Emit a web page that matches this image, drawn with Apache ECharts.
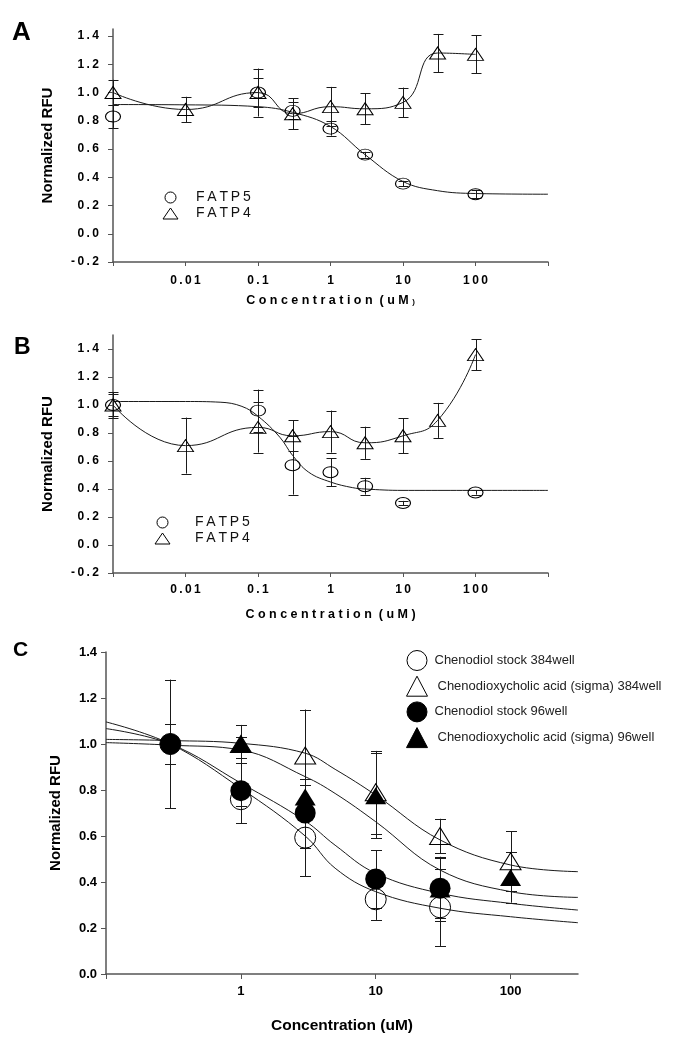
<!DOCTYPE html>
<html><head><meta charset="utf-8">
<script src="https://cdn.jsdelivr.net/npm/echarts@6/dist/echarts.min.js"></script>
<style>html,body{margin:0;padding:0;background:#fff}#c{width:678px;height:1050px}</style>
</head><body><div id="c"></div><script>
// ---------- Panel A ----------
const concA = [0.001, 0.01, 0.1, 0.3, 1, 3, 10, 30, 100];
const fatp5A_x = [0.001, 0.1, 0.3, 1, 3, 10, 100];
const fatp5A = [0.83, 1.0, 0.87, 0.745, 0.56, 0.355, 0.28];
const fatp5A_err = [0.08, 0.17, 0.06, 0.05, 0.02, 0.02, 0.03];
const fatp4A = [1.0, 0.88, 1.0, 0.85, 0.9, 0.885, 0.93, 1.28, 1.27];
const fatp4A_err = [0.09, 0.09, 0.1, 0.11, 0.14, 0.11, 0.105, 0.135, 0.135];
const fitA_x = [0.001, 0.01, 0.1, 0.3, 1, 3, 10, 30, 100, 1000];
const fitA_fatp5 = [0.915, 0.913, 0.90, 0.86, 0.76, 0.56, 0.37, 0.305, 0.285, 0.28];

// ---------- Panel B ----------
const concB = [0.001, 0.01, 0.1, 0.3, 1, 3, 10, 30, 100];
const fatp5B_x = [0.001, 0.1, 0.3, 1, 3, 10, 100];
const fatp5B = [1.0, 0.96, 0.57, 0.52, 0.42, 0.30, 0.375];
const fatp5B_err = [0.08, 0.15, 0.21, 0.1, 0.06, 0.015, 0.015];
const fatp4B = [1.0, 0.71, 0.84, 0.78, 0.81, 0.73, 0.78, 0.89, 1.36];
const fatp4B_err = [0.09, 0.2, 0.18, 0.11, 0.15, 0.115, 0.125, 0.125, 0.11];
const fitB_x = [0.001, 0.01, 0.03, 0.06, 0.1, 0.2, 0.3, 0.5, 1, 2, 3, 10, 1000];
const fitB_fatp5 = [1.025, 1.025, 1.02, 0.99, 0.92, 0.77, 0.64, 0.52, 0.45, 0.41, 0.40, 0.39, 0.39];

// ---------- Panel C ----------
const chenoX = [0.3, 1, 3, 10, 30];
const sigmaX = [1, 3, 10, 30, 100];
const cheno384 = [1.0, 0.76, 0.593, 0.325, 0.29];
const cheno384_err = [0.28, 0.03, 0.167, 0.09, 0.168];
const sigma384 = [1.0, 0.95, 0.79, 0.60, 0.49];
const sigma384_err = [0.03, 0.2, 0.18, 0.075, 0.13];
const cheno96 = [1.0, 0.797, 0.70, 0.413, 0.373];
const cheno96_err = [0.085, 0.142, 0.15, 0.125, 0.13];
const sigma96 = [1.0, 0.77, 0.775, 0.37, 0.42];
const sigma96_err = [0.083, 0.05, 0.185, 0.14, 0.11];
const fitC_x = [0.1, 0.3, 1, 3, 5, 10, 30, 100, 316];
const fit_sigma384 = [1.02, 1.015, 1.003, 0.96, 0.89, 0.778, 0.583, 0.474, 0.445];
const fit_sigma96 = [1.006, 0.995, 0.974, 0.858, 0.785, 0.662, 0.452, 0.358, 0.333];
const fit_cheno96 = [1.067, 1.0, 0.83, 0.665, 0.56, 0.438, 0.351, 0.307, 0.278];
const fit_cheno384 = [1.096, 1.0, 0.807, 0.60, 0.46, 0.358, 0.286, 0.249, 0.223];

// ---------- Ticks ----------
const xTicksAB = [0.01, 0.1, 1, 10, 100];
const xTickLabelsAB = ['0.01', '0.1', '1', '10', '100'];
const xTicksC = [1, 10, 100];
const xTickLabelsC = ['1', '10', '100'];
const yTicksAB = [-0.2, 0, 0.2, 0.4, 0.6, 0.8, 1.0, 1.2, 1.4];
const yTickLabelsAB = ['-0.2', '0.0', '0.2', '0.4', '0.6', '0.8', '1.0', '1.2', '1.4'];
const yTicksC = [0, 0.2, 0.4, 0.6, 0.8, 1.0, 1.2, 1.4];
const yTickLabelsC = ['0.0', '0.2', '0.4', '0.6', '0.8', '1.0', '1.2', '1.4'];

const FONT = '"Liberation Sans", Arial, Helvetica, sans-serif';
const TS = '\u2009';
const sp = s => s.split('').join(TS);
const AX = '#555';
const LN = '#1a1a1a';

function fmtLog(ticks, labels, spaced) {
  return v => {
    for (let i = 0; i < ticks.length; i++) {
      if (Math.abs(Math.log10(v) - Math.log10(ticks[i])) < 1e-6) return spaced ? sp(labels[i]) : labels[i];
    }
    return '';
  };
}
function fmtVal(ticks, labels, spaced) {
  return v => {
    for (let i = 0; i < ticks.length; i++) {
      if (Math.abs(v - ticks[i]) < 1e-6) return spaced ? sp(labels[i]) : labels[i];
    }
    return '';
  };
}
const zip = (xs, ys) => xs.map((x, i) => [x, ys[i]]);
const zipErr = (xs, ys, es) => xs.map((x, i) => [x, ys[i] - es[i], ys[i] + es[i]]);

function errRender(cap) {
  return function (params, api) {
    const x = api.value(0), lo = api.value(1), hi = api.value(2);
    const p1 = api.coord([x, hi]), p2 = api.coord([x, lo]);
    const cx = Math.round(p1[0]) + 0.5;
    const st = { stroke: LN, lineWidth: 1 };
    return { type: 'group', children: [
      { type: 'line', shape: { x1: cx, y1: p1[1], x2: cx, y2: p2[1] }, style: st },
      { type: 'line', shape: { x1: cx - cap, y1: Math.round(p1[1]) + 0.5, x2: cx + cap, y2: Math.round(p1[1]) + 0.5 }, style: st },
      { type: 'line', shape: { x1: cx - cap, y1: Math.round(p2[1]) + 0.5, x2: cx + cap, y2: Math.round(p2[1]) + 0.5 }, style: st }
    ] };
  };
}
function errSeries(idx, data, cap) {
  return { type: 'custom', xAxisIndex: idx, yAxisIndex: idx, data: data, renderItem: errRender(cap),
    encode: { x: 0, y: [1, 2] }, silent: true, z: 2 };
}
function curve(idx, data, smooth) {
  return { type: 'line', xAxisIndex: idx, yAxisIndex: idx, data: data, showSymbol: false, symbol: 'none',
    smooth: smooth, lineStyle: { color: LN, width: 1 }, silent: true, z: 1 };
}
function marks(idx, name, data, symbol, size, filled) {
  return { type: 'scatter', name: name, xAxisIndex: idx, yAxisIndex: idx, data: data, symbol: symbol, symbolSize: size,
    symbolKeepAspect: false,
    itemStyle: { color: filled ? '#000' : 'rgba(0,0,0,0)', borderColor: '#000', borderWidth: filled ? 0 : 1, opacity: 1 },
    emphasis: { disabled: true }, z: 3 };
}

const tickLblAB = { fontSize: 12, fontWeight: 'bold', color: '#000', fontFamily: FONT };
function xAxisAB(idx, margin, nameGap, name) {
  return { type: 'log', gridIndex: idx, min: 0.001, max: 1000, logBase: 10,
    axisLine: { onZero: false, lineStyle: { color: AX, width: 1.5 } },
    axisTick: { length: 4, lineStyle: { color: AX, width: 1 } },
    splitLine: { show: false }, minorTick: { show: false },
    axisLabel: Object.assign({ formatter: fmtLog(xTicksAB, xTickLabelsAB, true), margin: margin }, tickLblAB),
    name: name, nameLocation: 'middle', nameGap: nameGap,
    nameTextStyle: { fontSize: 12.5, fontWeight: 'bold', color: '#000', fontFamily: FONT,
      rich: { s: { fontSize: 8, fontWeight: 'bold', color: '#000', fontFamily: FONT, padding: [3, 0, 0, 0] } } } };
}
function yAxisAB(idx, max) {
  return { type: 'value', gridIndex: idx, min: -0.2, max: max,
    axisLine: { show: true, onZero: false, lineStyle: { color: AX, width: 1.5 } },
    axisTick: { show: true, length: 5, customValues: yTicksAB, lineStyle: { color: AX, width: 1 } },
    splitLine: { show: false },
    axisLabel: Object.assign({ customValues: yTicksAB, formatter: fmtVal(yTicksAB, yTickLabelsAB, true), margin: 14 }, tickLblAB),
    name: 'Normalized RFU', nameLocation: 'middle', nameRotate: 90, nameGap: 58,
    nameTextStyle: { fontSize: 15, fontWeight: 'bold', color: '#000', fontFamily: FONT } };
}
const spacedWord = w => w.split('').join(' ');
const nameA = spacedWord('Concentration') + '  ' + spacedWord('(uM') + ' {s|)}';
const nameB = spacedWord('Concentration') + '  ' + spacedWord('(uM)');

const legendAB = (top, left, pad) => ({
  data: ['FATP5', 'FATP4'], orient: 'vertical', left: left, top: top, itemWidth: 15, itemHeight: 11, itemGap: 1,
  selectedMode: false, symbolKeepAspect: false,
  itemStyle: { borderWidth: 1 },
  formatter: n => '{a|' + sp(n) + '}',
  textStyle: { fontSize: 14, color: '#111', fontFamily: FONT, lineHeight: 15, rich: { a: { fontSize: 14, color: '#111', fontFamily: FONT, padding: [0, 0, 0, pad] } } }
});

const legendC = {
  data: ['Chenodiol stock 384well', 'Chenodioxycholic acid (sigma) 384well', 'Chenodiol stock 96well', 'Chenodioxycholic acid (sigma) 96well'],
  orient: 'vertical', left: 401, top: 645, itemWidth: 21, itemHeight: 20, itemGap: 4.7, selectedMode: false,
  symbolKeepAspect: false,
  itemStyle: { borderWidth: 1 },
  formatter: n => (n.indexOf('Chenodiox') === 0 ? '{t|' : '{c|') + n + '}',
  textStyle: { fontSize: 13, color: '#222', fontFamily: FONT,
    rich: { c: { fontSize: 13, color: '#222', fontFamily: FONT, padding: [0, 0, 0, 2] },
            t: { fontSize: 13, color: '#222', fontFamily: FONT, padding: [0, 0, 0, 5] } } }
};

const option = {
  animation: false,
  backgroundColor: '#fff',
  graphic: [
    { type: 'text', left: 12, top: 20, style: { text: 'A', font: 'bold 26px ' + FONT, fill: '#000' } },
    { type: 'text', left: 14, top: 336, style: { text: 'B', font: 'bold 23px ' + FONT, fill: '#000' } },
    { type: 'text', left: 13, top: 640, style: { text: 'C', font: 'bold 21px ' + FONT, fill: '#000' } }
  ],
  legend: [legendAB(185, 157.5, 13), legendAB(510, 149.5, 20), legendC],
  grid: [
    { left: 113, top: 29, width: 435, height: 233 },
    { left: 113, top: 335, width: 435, height: 238 },
    { left: 106, top: 652, width: 472, height: 322 }
  ],
  xAxis: [
    xAxisAB(0, 13, 32, nameA),
    xAxisAB(1, 11, 35, nameB),
    { type: 'log', gridIndex: 2, min: 0.1, max: 316.23, logBase: 10,
      axisLine: { onZero: false, lineStyle: { color: AX, width: 1.5 } },
      axisTick: { length: 5, customValues: [0.1, 1, 10, 100], lineStyle: { color: AX, width: 1 } },
      splitLine: { show: false },
      axisLabel: { formatter: fmtLog(xTicksC, xTickLabelsC, false), margin: 11, fontSize: 13, fontWeight: 'bold', color: '#000', fontFamily: FONT },
      name: 'Concentration (uM)', nameLocation: 'middle', nameGap: 44,
      nameTextStyle: { fontSize: 15.5, fontWeight: 'bold', color: '#000', fontFamily: FONT } }
  ],
  yAxis: [
    yAxisAB(0, 1.45),
    yAxisAB(1, 1.5),
    { type: 'value', gridIndex: 2, min: 0, max: 1.4,
      axisLine: { show: true, onZero: false, lineStyle: { color: AX, width: 1.5 } },
      axisTick: { show: true, length: 5, customValues: yTicksC, lineStyle: { color: AX, width: 1 } },
      splitLine: { show: false },
      axisLabel: { customValues: yTicksC, formatter: fmtVal(yTicksC, yTickLabelsC, false), margin: 9, fontSize: 13, fontWeight: 'bold', color: '#000', fontFamily: FONT },
      name: 'Normalized RFU', nameLocation: 'middle', nameRotate: 90, nameGap: 43,
      nameTextStyle: { fontSize: 15, fontWeight: 'bold', color: '#000', fontFamily: FONT } }
  ],
  series: [
    // A
    curve(0, zip(fitA_x, fitA_fatp5), 0.4),
    curve(0, zip(concA, fatp4A), 0.5),
    errSeries(0, zipErr(fatp5A_x, fatp5A, fatp5A_err), 5),
    errSeries(0, zipErr(concA, fatp4A, fatp4A_err), 5),
    marks(0, 'FATP5', zip(fatp5A_x, fatp5A), 'circle', [15, 11], false),
    marks(0, 'FATP4', zip(concA, fatp4A), 'triangle', [16, 12], false),
    // B
    curve(1, zip(fitB_x, fitB_fatp5), 0.4),
    curve(1, zip(concB, fatp4B), 0.5),
    errSeries(1, zipErr(fatp5B_x, fatp5B, fatp5B_err), 5),
    errSeries(1, zipErr(concB, fatp4B, fatp4B_err), 5),
    marks(1, 'FATP5', zip(fatp5B_x, fatp5B), 'circle', [15, 11], false),
    marks(1, 'FATP4', zip(concB, fatp4B), 'triangle', [16, 12], false),
    // C
    curve(2, zip(fitC_x, fit_sigma384), 0.4),
    curve(2, zip(fitC_x, fit_sigma96), 0.4),
    curve(2, zip(fitC_x, fit_cheno96), 0.4),
    curve(2, zip(fitC_x, fit_cheno384), 0.4),
    errSeries(2, zipErr(chenoX, cheno384, cheno384_err), 5.5),
    errSeries(2, zipErr(sigmaX, sigma384, sigma384_err), 5.5),
    errSeries(2, zipErr(chenoX, cheno96, cheno96_err), 5.5),
    errSeries(2, zipErr(sigmaX, sigma96, sigma96_err), 5.5),
    marks(2, 'Chenodiol stock 384well', zip(chenoX, cheno384), 'circle', [21, 21], false),
    marks(2, 'Chenodioxycholic acid (sigma) 384well', zip(sigmaX, sigma384), 'triangle', [21, 17], false),
    marks(2, 'Chenodiol stock 96well', zip(chenoX, cheno96), 'circle', [21, 21], true),
    marks(2, 'Chenodioxycholic acid (sigma) 96well', zip(sigmaX, sigma96), 'triangle', [21, 17], true)
  ]
};
const chart = echarts.init(document.getElementById('c'), null, { renderer: 'canvas' });
chart.setOption(option);
</script></body></html>
